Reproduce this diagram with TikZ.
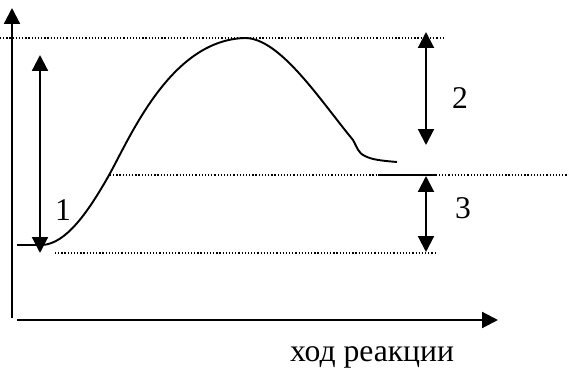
\documentclass[tikz,border=0pt]{standalone}
\usepackage{fontspec}
\setmainfont{Liberation Serif}
\usetikzlibrary{arrows.meta}

\begin{document}
\begin{tikzpicture}[x=0.02cm, y=-0.02cm,
    axis/.style={line width=1.2pt, -{Triangle[width=9pt, length=9pt]}},
    level gap/.style={line width=1.2pt, {Triangle[width=9pt, length=9pt]}-{Triangle[width=9pt, length=9pt]}},
    guide/.style={line width=0.7pt, dash pattern=on 0.7pt off 1.1pt},
    label text/.style={font=\fontsize{18}{20}\selectfont}
]

% Frame of the picture
\useasboundingbox (0,0) rectangle (569,371);

% Axes
\coordinate (O) at (12,318);
\coordinate (Ytop) at (12,8);
\coordinate (Xstart) at (17,320);
\coordinate (Xend) at (498,320);
\draw[axis] (O) -- (Ytop);
\draw[axis] (Xstart) -- (Xend);
\node[label text] (xlabel) at (372,357) {ход реакции};

% --- Energy levels (dotted) ---
\coordinate (Ta) at (0,38);    \coordinate (Tb) at (445,38);
\coordinate (Ma) at (110,175); \coordinate (Mb) at (569,175);
\coordinate (Ba) at (55,253);  \coordinate (Bb) at (436,253);
\draw[guide] (Ta) -- (Tb);
\draw[guide] (Ma) -- (Mb);
\draw[guide] (Ba) -- (Bb);

% Product level
\coordinate (Pa) at (378,175);
\coordinate (Pb) at (436,175);
\draw[line width=1.2pt] (Pa) -- (Pb);

% --- Reaction curve ---
\coordinate (R) at (17,245);
\coordinate (Peak) at (245,38);
\coordinate (E) at (397,162);
\draw[line width=1.1pt, line join=round]
    (R) -- (42,245)
    .. controls (66,244) and (88,212) .. (108,177)
    .. controls (130,138) and (170,40) .. (Peak)
    .. controls (280,38) and (320,100) .. (353,140)
    .. controls (357,147) and (358,153) .. (365,156)
    .. controls (372,160) and (385,161) .. (E);

% --- Double arrows with labels ---
\coordinate (A1) at (40,55);  \coordinate (B1) at (40,253);
\coordinate (A2) at (426,32); \coordinate (B2) at (426,145);
\coordinate (A3) at (426,176); \coordinate (B3) at (426,252);
\draw[level gap] (A1) -- (B1);
\draw[level gap] (A2) -- (B2);
\draw[level gap] (A3) -- (B3);

\node[label text] (n1) at (63,210) {1};
\node[label text] (n2) at (460,98) {2};
\node[label text] (n3) at (463,208) {3};

\end{tikzpicture}
\end{document}
